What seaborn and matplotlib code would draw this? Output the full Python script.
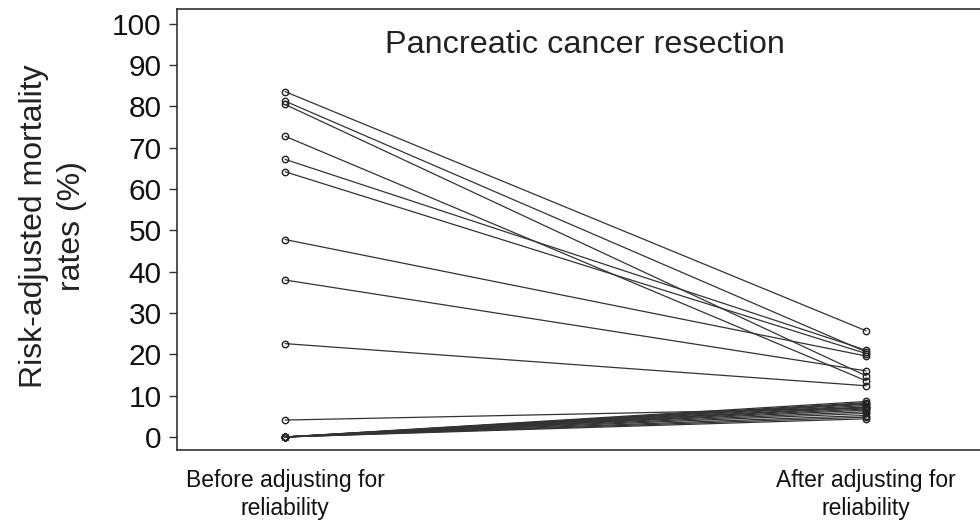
import numpy as np
import pandas as pd
import matplotlib
matplotlib.use("Agg")
import matplotlib.pyplot as plt
import seaborn as sns

# ---- data ----
stages = ["Before adjusting for\nreliability", "After adjusting for\nreliability"]
before = [83.6, 81.3, 80.5, 72.8, 67.2, 64.2, 47.8, 38.0, 22.6, 4.1,
          0.0, 0.0, 0.0, 0.0, 0.0, 0.0, 0.0, 0.0, 0.0, 0.0, 0.0, 0.0, 0.0, 0.0]
after = [25.7, 20.6, 14.8, 13.6, 21.0, 20.2, 19.6, 16.0, 12.4, 7.0,
         8.6, 8.3, 8.1, 7.9, 7.6, 7.3, 7.1, 6.8, 6.5, 6.1, 5.7, 5.2, 4.8, 4.4]
yticks = [0, 10, 20, 30, 40, 50, 60, 70, 80, 90, 100]
title = "Pancreatic cancer resection"
ylabel = "Risk-adjusted mortality\nrates (%)"

n = len(before)
df = pd.DataFrame({
    "hospital": list(range(n)) * 2,
    "stage": [0] * n + [1] * n,
    "rate": before + after,
})

sns.set_theme(style="white")
plt.rcParams["font.family"] = ["Liberation Sans", "DejaVu Sans"]

fig = plt.figure(figsize=(9.8, 5.28), dpi=100)
ax = fig.add_axes([177 / 980, 1 - 450 / 528, 1 - 177 / 980, (450 - 9) / 528])

sns.lineplot(data=df, x="stage", y="rate", units="hospital", estimator=None,
             color="#333333", linewidth=0.9, marker="o", markersize=4.6,
             markerfacecolor="none", markeredgecolor="#222222",
             markeredgewidth=1.0, ax=ax, legend=False)

ax.set_xlim(-0.186, 1.196)
ax.set_ylim(-3.15, 103.6)
ax.set_yticks(yticks)
ax.set_yticklabels([str(t) for t in yticks], fontsize=21.5, color="#111111")
ax.set_xticks([0, 1])
ax.set_xticklabels(stages, fontsize=16.5, color="#111111", linespacing=1.25)
ax.tick_params(axis="y", length=6, width=1, color="#333333", pad=5, left=True)
ax.tick_params(axis="x", length=0, pad=14)
ax.set_xlabel("")
ax.set_ylabel(ylabel, fontsize=23, color="#222222", linespacing=1.35)
ax.yaxis.set_label_coords(-0.112, 0.507)

for s in ["left", "bottom", "top"]:
    ax.spines[s].set_visible(True)
    ax.spines[s].set_color("#333333")
    ax.spines[s].set_linewidth(1.2)
ax.spines["right"].set_visible(False)

ax.text((585 - 177) / 803, 1 - (45 - 9) / 441, title, fontsize=23.3,
        color="#222222", ha="center", va="center", transform=ax.transAxes)

fig.savefig("out.png", dpi=100)
